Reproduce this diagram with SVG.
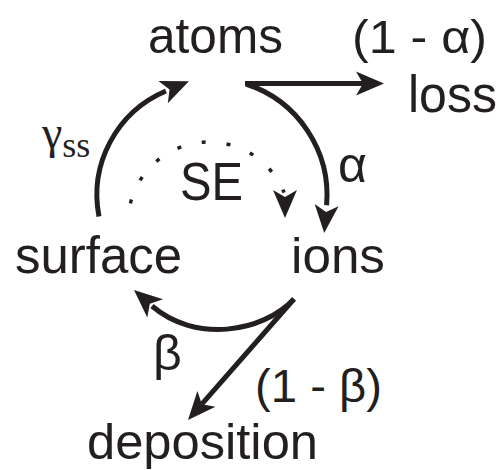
<svg xmlns="http://www.w3.org/2000/svg" width="500" height="470" viewBox="0 0 500 470">
<defs>
<style>
.t{font-family:"Liberation Sans",Arial,sans-serif;fill:#231f20}
.g{font-family:"Liberation Serif","Times New Roman",serif;fill:#231f20}
.c{fill:none;stroke:#231f20;stroke-width:5}
.d{fill:none;stroke:#231f20;stroke-width:3.5;stroke-dasharray:4 21}
.h{fill:#231f20}
</style>
<path id="ah" d="M0,0 L-28,-12 L-21,0 L-28,12 Z"/>
</defs>
<rect width="500" height="470" fill="#fff"/>
<g id="atoms"><text class="t" x="148" y="53" font-size="50" textLength="135" lengthAdjust="spacingAndGlyphs">atoms</text></g>
<g id="loss"><text class="t" x="408" y="112" font-size="52" textLength="89" lengthAdjust="spacingAndGlyphs">loss</text></g>
<g id="ions"><text class="t" x="291" y="273" font-size="50" textLength="94" lengthAdjust="spacingAndGlyphs">ions</text></g>
<g id="surface"><text class="t" x="15" y="273" font-size="52" textLength="167" lengthAdjust="spacingAndGlyphs">surface</text></g>
<g id="deposition"><text class="t" x="87" y="459" font-size="50" textLength="231" lengthAdjust="spacingAndGlyphs">deposition</text></g>
<g id="SE"><text class="t" x="180" y="200" font-size="54" textLength="63" lengthAdjust="spacingAndGlyphs">SE</text></g>
<g id="connectors">
<path class="c" d="M245,83.5 H364"/>
<use href="#ah" class="h" transform="translate(384,83.5)"/>
<path class="c" d="M246,84 A117,117 0 0 1 326.6,205.2"/>
<use href="#ah" class="h" transform="translate(324.2,233) rotate(95)"/>
<path class="c" d="M99,216.6 A113,113 0 0 1 165.9,91"/>
<use href="#ah" class="h" transform="translate(188.9,81.2) rotate(-23)"/>
<path class="c" d="M294,299 C262,333 195,343 152,306"/>
<use href="#ah" class="h" transform="translate(134,290) rotate(221)"/>
<path class="c" d="M294,299 L201.8,404.2"/>
<use href="#ah" class="h" transform="translate(188,420) rotate(131.2)"/>
<path class="d" d="M130.4,203.4 A81,81 0 0 1 284.1,192.7"/>
<use href="#ah" class="h" transform="translate(285,218) rotate(90)"/>
</g>
<g id="labels">
<text class="t" x="352" y="53" font-size="46" textLength="135" lengthAdjust="spacingAndGlyphs">(1 - α)</text>
<text class="t" x="338" y="182" font-size="50">α</text>
<text class="g" x="42" y="148" font-size="46">γ<tspan font-size="36" dy="9">ss</tspan></text>
<text class="t" x="153" y="370" font-size="50">β</text>
<text class="t" x="255" y="402" font-size="46" textLength="127" lengthAdjust="spacingAndGlyphs">(1 - β)</text>
</g>
</svg>
